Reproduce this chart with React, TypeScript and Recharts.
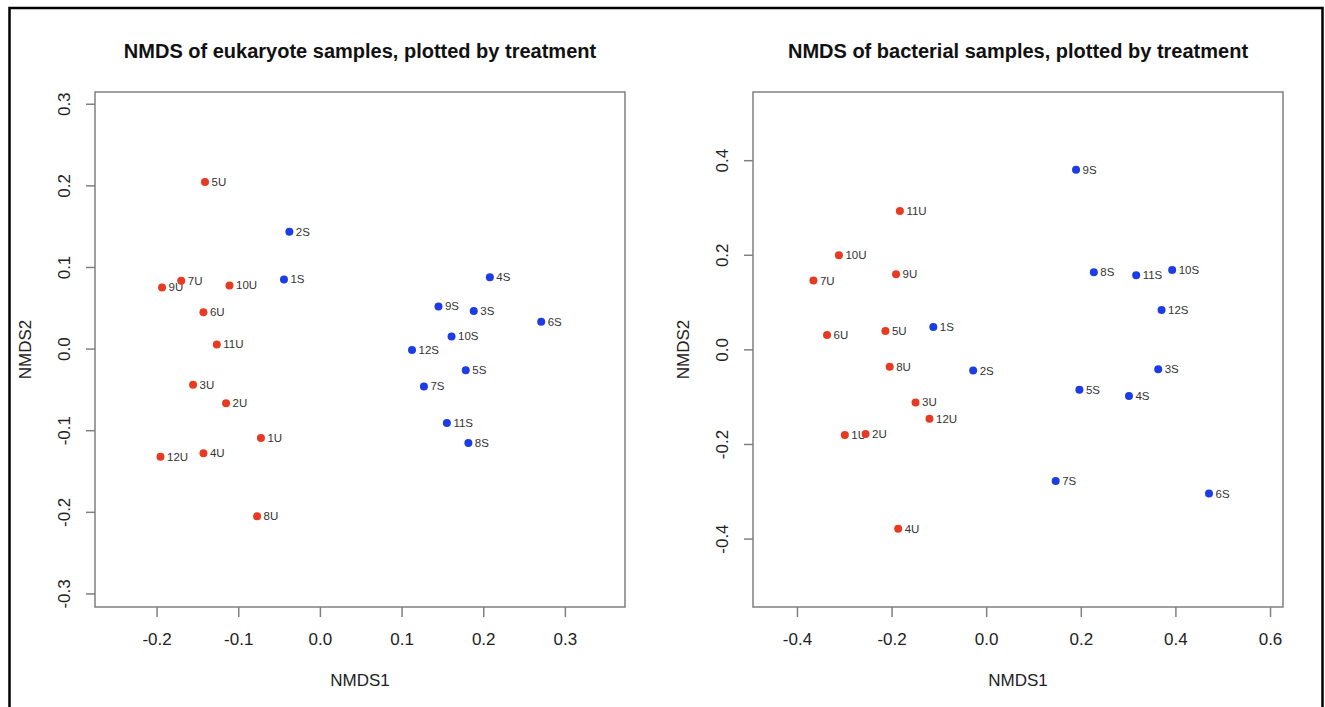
import { ReferenceArea, Scatter, ScatterChart, XAxis, YAxis } from "recharts";

const FONT = '"Liberation Sans", Arial, Helvetica, sans-serif';
const RED = "#e63a22";
const BLUE = "#1c3ce4";
const BOX = "#808080";

// eukaryote samples
const eukUIds = ["1U", "2U", "3U", "4U", "5U", "6U", "7U", "8U", "9U", "10U", "11U", "12U"];
const eukUX = [-0.0728, -0.1155, -0.1559, -0.1432, -0.1413, -0.1432, -0.1704, -0.0775, -0.1939, -0.1113, -0.1268, -0.1958];
const eukUY = [-0.109, -0.0664, -0.0438, -0.1275, 0.2047, 0.045, 0.0838, -0.2049, 0.0756, 0.078, 0.0057, -0.132];

const eukSIds = ["1S", "2S", "3S", "4S", "5S", "6S", "7S", "8S", "9S", "10S", "11S", "12S"];
const eukSX = [-0.0446, -0.038, 0.1878, 0.2075, 0.178, 0.2704, 0.1268, 0.1812, 0.1446, 0.1606, 0.1549, 0.1122];
const eukSY = [0.0854, 0.1439, 0.0466, 0.0879, -0.026, 0.0335, -0.0458, -0.1152, 0.0523, 0.0155, -0.0906, -0.0012];

// bacterial samples
const bacUIds = ["1U", "2U", "3U", "4U", "5U", "6U", "7U", "8U", "9U", "10U", "11U", "12U"];
const bacUX = [-0.2999, -0.256, -0.1504, -0.1871, -0.214, -0.3375, -0.3662, -0.205, -0.1916, -0.3124, -0.1835, -0.1209];
const bacUY = [-0.18, -0.1779, -0.1111, -0.3783, 0.0401, 0.0317, 0.1465, -0.0359, 0.16, 0.2, 0.2937, -0.1456];

const bacSIds = ["1S", "2S", "3S", "4S", "5S", "6S", "7S", "8S", "9S", "10S", "11S", "12S"];
const bacSX = [-0.1128, -0.0286, 0.3626, 0.3008, 0.196, 0.47, 0.1459, 0.2265, 0.1889, 0.3921, 0.316, 0.3697];
const bacSY = [0.0486, -0.0437, -0.0408, -0.0977, -0.0844, -0.3038, -0.2771, 0.164, 0.381, 0.169, 0.1577, 0.0845];

const eukXTicks = [-0.2, -0.1, 0, 0.1, 0.2, 0.3];
const eukYTicks = [-0.3, -0.2, -0.1, 0, 0.1, 0.2, 0.3];
const bacXTicks = [-0.4, -0.2, 0, 0.2, 0.4, 0.6];
const bacYTicks = [-0.4, -0.2, 0, 0.2, 0.4];

const rows = (ids: string[], xs: number[], ys: number[]) =>
    ids.map((id, i) => ({ id, x: xs[i], y: ys[i] }));

const YTick = (props: any) => {
    const { x, y, payload } = props;
    const bx = x - 15.5;
    return (
        <text x={bx} y={y} transform={`rotate(-90 ${bx} ${y})`} textAnchor="middle"
            fontSize={17} fill="#222" fontFamily={FONT}>
            {Number(payload.value).toFixed(1)}
        </text>
    );
};

const dot = (color: string) => (p: any) => <circle cx={p.cx} cy={p.cy} r={4} fill={color} />;

const tag = (p: any) => (
    <text x={p.cx + 6.5} y={p.cy} dominantBaseline="central" fontSize={11.5} fill="#333" fontFamily={FONT}>
        {p.payload.id}
    </text>
);

type PanelProps = {
    left: number;
    yWidth: number;
    right: number;
    u: { id: string; x: number; y: number }[];
    s: { id: string; x: number; y: number }[];
    xDomain: [number, number];
    yDomain: [number, number];
    xTicks: number[];
    yTicks: number[];
};

function Panel({ left, yWidth, right, u, s, xDomain, yDomain, xTicks, yTicks }: PanelProps) {
    return (
        <div style={{ position: "absolute", left, top: 0 }}>
            <ScatterChart width={660} height={707} margin={{ top: 92, right, bottom: 40, left: 0 }}>
                <XAxis type="number" dataKey="x" domain={xDomain} allowDataOverflow ticks={xTicks}
                    tickFormatter={(v: number) => v.toFixed(1)} height={60} axisLine={false}
                    tickSize={10} tickMargin={16} tickLine={{ stroke: BOX, strokeWidth: 1.5 }}
                    tick={{ fontSize: 17, fill: "#222", fontFamily: FONT }} />
                <YAxis type="number" dataKey="y" domain={yDomain} allowDataOverflow ticks={yTicks}
                    width={yWidth} axisLine={false} tickSize={9} tickMargin={0}
                    tickLine={{ stroke: BOX, strokeWidth: 1.5 }} tick={<YTick />} />
                <ReferenceArea x1={xDomain[0]} x2={xDomain[1]} y1={yDomain[0]} y2={yDomain[1]}
                    fill="none" fillOpacity={0} stroke={BOX} strokeWidth={1.5} ifOverflow="visible" />
                <Scatter data={[...u, ...s]} shape={tag} isAnimationActive={false} />
                <Scatter data={u} shape={dot(RED)} isAnimationActive={false} />
                <Scatter data={s} shape={dot(BLUE)} isAnimationActive={false} />
            </ScatterChart>
        </div>
    );
}

export default function App() {
    return (
        <div style={{ position: "absolute", left: 0, top: 0, width: 1325, height: 707, overflow: "hidden", background: "#fff" }}>
            <Panel left={0} yWidth={95} right={35}
                u={rows(eukUIds, eukUX, eukUY)} s={rows(eukSIds, eukSX, eukSY)}
                xDomain={[-0.276, 0.373]} yDomain={[-0.316, 0.315]}
                xTicks={eukXTicks} yTicks={eukYTicks} />
            <Panel left={660} yWidth={93} right={37}
                u={rows(bacUIds, bacUX, bacUY)} s={rows(bacSIds, bacSX, bacSY)}
                xDomain={[-0.494, 0.6264]} yDomain={[-0.5436, 0.5452]}
                xTicks={bacXTicks} yTicks={bacYTicks} />
            <svg width={1325} height={707} style={{ position: "absolute", left: 0, top: 0, pointerEvents: "none" }}
                fontFamily={FONT}>
                <path d="M9.5,720 V8 H1322.5 V720" fill="none" stroke="#000" strokeWidth={2.5} />
                <text x={360} y={58} textAnchor="middle" fontSize={20} fontWeight="bold" fill="#111">
                    NMDS of eukaryote samples, plotted by treatment
                </text>
                <text x={1018} y={58} textAnchor="middle" fontSize={20} fontWeight="bold" fill="#111">
                    NMDS of bacterial samples, plotted by treatment
                </text>
                <text x={360} y={686} textAnchor="middle" fontSize={17} fill="#222">NMDS1</text>
                <text x={1018} y={686} textAnchor="middle" fontSize={17} fill="#222">NMDS1</text>
                <text x={31} y={349.5} transform="rotate(-90 31 349.5)" textAnchor="middle" fontSize={17} fill="#222">NMDS2</text>
                <text x={689} y={349.5} transform="rotate(-90 689 349.5)" textAnchor="middle" fontSize={17} fill="#222">NMDS2</text>
            </svg>
        </div>
    );
}
